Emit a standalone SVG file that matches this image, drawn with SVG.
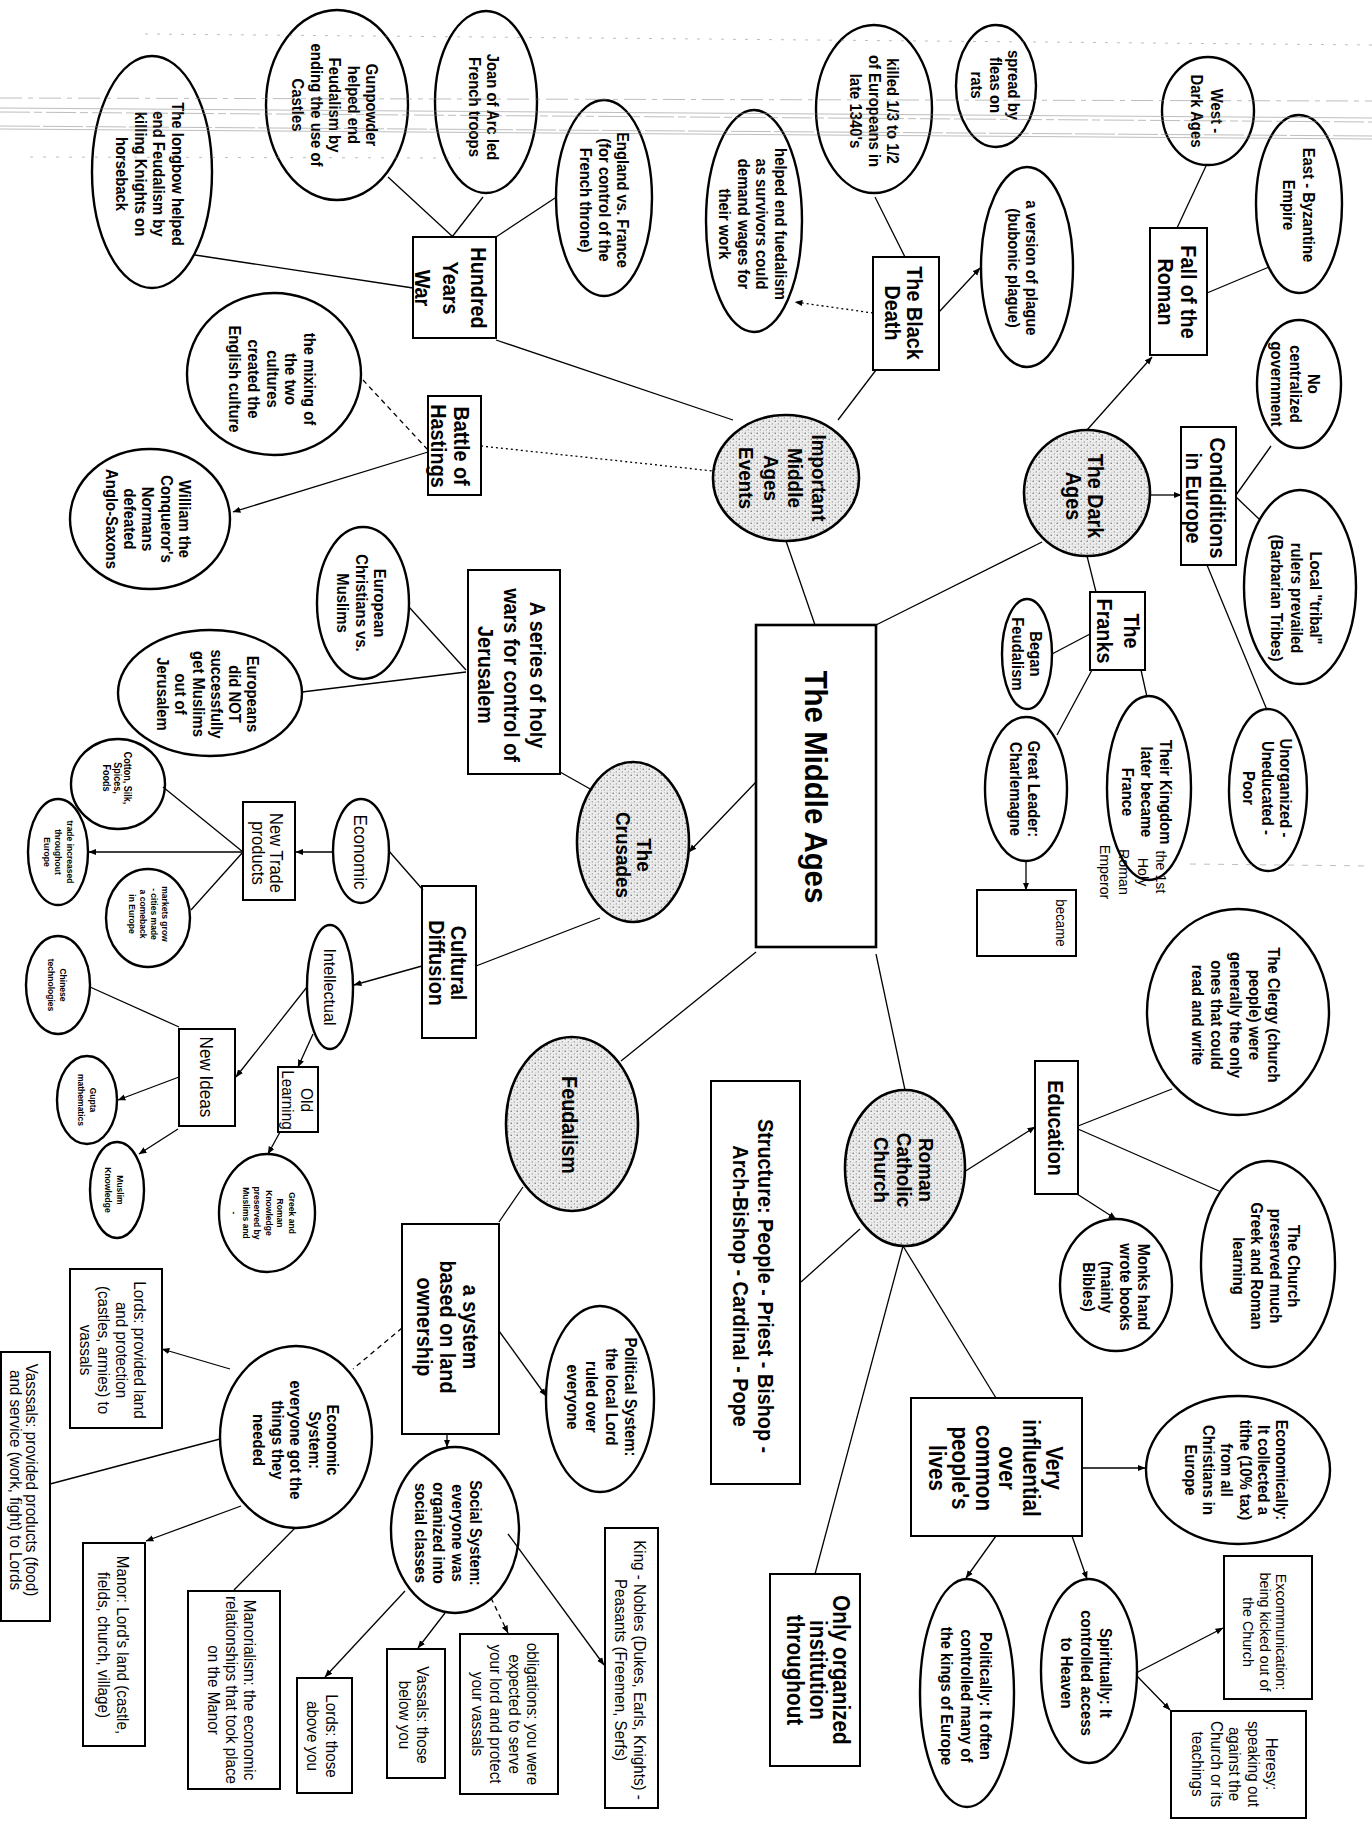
<svg xmlns="http://www.w3.org/2000/svg" width="1372" height="1828" viewBox="0 0 1372 1828">
<defs>
<pattern id="stip" width="6" height="6" patternUnits="userSpaceOnUse">
<rect width="6" height="6" fill="#ececec"/>
<circle cx="1.2" cy="1.3" r="0.75" fill="#6a6a6a"/>
<circle cx="4.3" cy="3.9" r="0.65" fill="#888"/>
<circle cx="4.6" cy="0.8" r="0.45" fill="#999"/>
<circle cx="1.8" cy="4.8" r="0.45" fill="#9a9a9a"/>
</pattern>
<marker id="ar" viewBox="0 0 10 10" refX="9.5" refY="5" markerWidth="6" markerHeight="6" orient="auto-start-reverse">
<path d="M0,1 L10,5 L0,9 z" fill="#000"/>
</marker>
<style>
.el{fill:#fff;stroke:#000;stroke-width:2.4}
.gr{fill:url(#stip);stroke:#000;stroke-width:2.6}
.bx{fill:#fff;stroke:#000;stroke-width:2}
.cn line{stroke:#000;stroke-width:1.3;fill:none}
.ar{marker-end:url(#ar)}
.dash{stroke-dasharray:5 4}
.dot{stroke-dasharray:2 3}
text{font-family:"Liberation Sans",Arial,Helvetica,sans-serif;text-anchor:middle;fill:#000}
.e{font-size:16.5px;font-weight:bold}
.b{font-size:22px;font-weight:bold}
.r{font-size:16.5px}
.s{font-size:9.5px;font-weight:bold}
.art line{stroke:#8a8a8a;stroke-width:1}
</style>
</defs>
<rect width="1372" height="1828" fill="#fff"/>

<g id="n-longbow"><ellipse class="el" cx="152" cy="172" rx="60" ry="116"/>
<text class="e" transform="translate(178,174) rotate(90) scale(0.9,1)"><tspan x="0" y="6">The longbow helped</tspan><tspan x="0" dy="18.7">end Feudalism by</tspan><tspan x="0" dy="18.7">killing Knights on</tspan><tspan x="0" dy="18.7">horseback</tspan></text></g>

<g id="n-gunpowder"><ellipse class="el" cx="337" cy="105" rx="71" ry="95"/>
<text class="e" transform="translate(372,105) rotate(90) scale(0.9,1)"><tspan x="0" y="6">Gunpowder</tspan><tspan x="0" dy="18.5">helped end</tspan><tspan x="0" dy="18.5">Feudalism by</tspan><tspan x="0" dy="18.5">ending the use of</tspan><tspan x="0" dy="18.5">Castles</tspan></text></g>

<g id="n-joan"><ellipse class="el" cx="486" cy="102" rx="51" ry="91"/>
<text class="e" transform="translate(493,107) rotate(90) scale(0.9,1)"><tspan x="0" y="6">Joan of Arc led</tspan><tspan x="0" dy="18">French troops</tspan></text></g>

<g id="n-england"><ellipse class="el" cx="604" cy="198" rx="48" ry="98"/>
<text class="e" transform="translate(623,200) rotate(90) scale(0.9,1)"><tspan x="0" y="6">England vs. France</tspan><tspan x="0" dy="18.5">(for control of the</tspan><tspan x="0" dy="18.5">French throne)</tspan></text></g>

<g id="n-hundred-years-war"><rect class="bx" x="413" y="237" width="83" height="101"/>
<text class="b" transform="translate(479,288) rotate(90) scale(0.9,1)"><tspan x="0" y="8">Hundred</tspan><tspan x="0" dy="28">Years</tspan><tspan x="0" dy="28">War</tspan></text></g>

<g id="n-mixing"><ellipse class="el" cx="274" cy="374" rx="87" ry="81"/>
<text class="e" transform="translate(310,379) rotate(90) scale(0.9,1)"><tspan x="0" y="6">the mixing of</tspan><tspan x="0" dy="18.7">the two</tspan><tspan x="0" dy="18.7">cultures</tspan><tspan x="0" dy="18.7">created the</tspan><tspan x="0" dy="18.7">English culture</tspan></text></g>

<g id="n-battle"><rect class="bx" x="428" y="396" width="53" height="99"/>
<text class="b" transform="translate(462,446) rotate(90) scale(0.9,1)"><tspan x="0" y="8">Battle of</tspan><tspan x="0" dy="23">Hastings</tspan></text></g>

<g id="n-william"><ellipse class="el" cx="150" cy="519" rx="80" ry="70"/>
<text class="e" transform="translate(185,519) rotate(90) scale(0.9,1)"><tspan x="0" y="6">William the</tspan><tspan x="0" dy="18.3">Conqueror's</tspan><tspan x="0" dy="18.3">Normans</tspan><tspan x="0" dy="18.3">defeated</tspan><tspan x="0" dy="18.3">Anglo-Saxons</tspan></text></g>

<g id="n-helped"><ellipse class="el" cx="754" cy="221" rx="48" ry="111"/>
<text class="e" transform="translate(781,224) rotate(90) scale(0.9,1)"><tspan x="0" y="6">helped end fuedalism</tspan><tspan x="0" dy="18.7">as survivors could</tspan><tspan x="0" dy="18.7">demand wages for</tspan><tspan x="0" dy="18.7">their work</tspan></text></g>

<g id="n-killed"><ellipse class="el" cx="874" cy="109" rx="58" ry="84"/>
<text class="e" transform="translate(893,111) rotate(90) scale(0.9,1)"><tspan x="0" y="6">killed 1/3 to 1/2</tspan><tspan x="0" dy="18.5">of Europeans in</tspan><tspan x="0" dy="18.5">late 1340's</tspan></text></g>

<g id="n-black-death"><rect class="bx" x="873" y="257" width="66" height="113"/>
<text class="b" transform="translate(915,313) rotate(90) scale(0.9,1)"><tspan x="0" y="8">The Black</tspan><tspan x="0" dy="22">Death</tspan></text></g>

<g id="n-spread"><ellipse class="el" cx="996" cy="86" rx="40" ry="61"/>
<text class="e" transform="translate(1014,85) rotate(90) scale(0.9,1)"><tspan x="0" y="6">spread by</tspan><tspan x="0" dy="18.5">fleas on</tspan><tspan x="0" dy="18.5">rats</tspan></text></g>

<g id="n-version"><ellipse class="el" cx="1027" cy="267" rx="46" ry="100"/>
<text class="e" transform="translate(1032,268) rotate(90) scale(0.9,1)"><tspan x="0" y="6">a version of plague</tspan><tspan x="0" dy="18.5">(bubonic plague)</tspan></text></g>

<g id="n-west"><ellipse class="el" cx="1208" cy="111" rx="46" ry="54"/>
<text class="e" transform="translate(1217,111) rotate(90) scale(0.9,1)"><tspan x="0" y="6">West -</tspan><tspan x="0" dy="20">Dark Ages</tspan></text></g>

<g id="n-east"><ellipse class="el" cx="1299" cy="204" rx="43" ry="89"/>
<text class="e" transform="translate(1309,205) rotate(90) scale(0.9,1)"><tspan x="0" y="6">East - Byzantine</tspan><tspan x="0" dy="20">Empire</tspan></text></g>

<g id="n-fall"><rect class="bx" x="1150" y="228" width="57" height="127"/>
<text class="b" transform="translate(1189,292) rotate(90) scale(0.9,1)"><tspan x="0" y="8">Fall of the</tspan><tspan x="0" dy="23">Roman</tspan></text></g>

<g id="n-no-central"><ellipse class="el" cx="1299" cy="384" rx="42" ry="64"/>
<text class="e" transform="translate(1314,384) rotate(90) scale(0.9,1)"><tspan x="0" y="6">No</tspan><tspan x="0" dy="18.5">centralized</tspan><tspan x="0" dy="18.5">government</tspan></text></g>

<g id="n-conditions"><rect class="bx" x="1181" y="427" width="55" height="138"/>
<text class="b" transform="translate(1218,498) rotate(90) scale(0.9,1)"><tspan x="0" y="8">Condiditions</tspan><tspan x="0" dy="24">in Europe</tspan></text></g>

<g id="n-dark-ages"><circle class="gr" cx="1087" cy="493" r="63"/>
<text class="b" transform="translate(1096,496) rotate(90) scale(0.9,1)"><tspan x="0" y="8">The Dark</tspan><tspan x="0" dy="22">Ages</tspan></text></g>

<g id="n-local"><ellipse class="el" cx="1300" cy="587" rx="56" ry="97"/>
<text class="e" transform="translate(1316,598) rotate(90) scale(0.9,1)"><tspan x="0" y="6">Local "tribal"</tspan><tspan x="0" dy="19.5">rulers prevailed</tspan><tspan x="0" dy="19.5">(Barbarian Tribes)</tspan></text></g>

<g id="n-unorganized"><ellipse class="el" cx="1268" cy="790" rx="39" ry="81"/>
<text class="e" transform="translate(1286,788) rotate(90) scale(0.9,1)"><tspan x="0" y="6">Unorganized -</tspan><tspan x="0" dy="18.5">Uneducated -</tspan><tspan x="0" dy="18.5">Poor</tspan></text></g>

<g id="n-franks"><rect class="bx" x="1090" y="592" width="55" height="78"/>
<text class="b" transform="translate(1132,631) rotate(90) scale(0.9,1)"><tspan x="0" y="8">The</tspan><tspan x="0" dy="27">Franks</tspan></text></g>

<g id="n-began"><ellipse class="el" cx="1027" cy="654" rx="25" ry="55"/>
<text class="e" transform="translate(1036,654) rotate(90) scale(0.9,1)"><tspan x="0" y="6">Began</tspan><tspan x="0" dy="18.5">Feudalism</tspan></text></g>

<g id="n-great-leader"><ellipse class="el" cx="1026" cy="789" rx="41" ry="72"/>
<text class="e" transform="translate(1034,789) rotate(90) scale(0.9,1)"><tspan x="0" y="6">Great Leader:</tspan><tspan x="0" dy="18.5">Charlemagne</tspan></text></g>

<g id="n-kingdom"><ellipse class="el" cx="1149" cy="788" rx="42" ry="92"/>
<text class="e" transform="translate(1166,792) rotate(90) scale(0.9,1)"><tspan x="0" y="6">Their Kingdom</tspan><tspan x="0" dy="19">later became</tspan><tspan x="0" dy="19">France</tspan></text></g>

<g id="n-became"><rect class="bx" x="977" y="890" width="99" height="66"/>
<text class="r" style="font-size:14px" transform="translate(1061,923) rotate(90) scale(0.95,1)"><tspan x="0" y="5">became</tspan></text>
<text class="r" style="font-size:15.5px" transform="translate(1162,872) rotate(90) scale(0.92,1)"><tspan x="0" y="5.5">the 1st</tspan><tspan x="0" dy="19">Holy</tspan><tspan x="0" dy="19">Roman</tspan><tspan x="0" dy="19">Emperor</tspan></text></g>

<g id="n-important"><ellipse class="gr" cx="786" cy="478" rx="73" ry="63"/>
<text class="b" style="font-size:21px" transform="translate(820,478) rotate(90) scale(0.9,1)"><tspan x="0" y="7.5">Important</tspan><tspan x="0" dy="24.5">Middle</tspan><tspan x="0" dy="24.5">Ages</tspan><tspan x="0" dy="24.5">Events</tspan></text></g>

<g id="n-middle-ages"><rect class="bx" x="756" y="625" width="120" height="322" style="stroke-width:2.6"/>
<text class="b" style="font-size:32px" transform="translate(816,787) rotate(90) scale(0.92,1)"><tspan x="0" y="11">The Middle Ages</tspan></text></g>

<g id="n-crusades"><ellipse class="gr" cx="633" cy="842" rx="56" ry="80"/>
<text class="b" style="font-size:21px" transform="translate(645,855) rotate(90) scale(0.9,1)"><tspan x="0" y="7.5">The</tspan><tspan x="0" dy="22">Crusades</tspan></text></g>

<g id="n-series"><rect class="bx" x="468" y="570" width="92" height="204"/>
<text class="b" transform="translate(538,675) rotate(90) scale(0.9,1)"><tspan x="0" y="8">A series of holy</tspan><tspan x="0" dy="26">wars for control of</tspan><tspan x="0" dy="26">Jerusalem</tspan></text></g>

<g id="n-euro-christians"><ellipse class="el" cx="363" cy="603" rx="46" ry="76"/>
<text class="e" transform="translate(380,603) rotate(90) scale(0.9,1)"><tspan x="0" y="6">European</tspan><tspan x="0" dy="18.5">Christians vs.</tspan><tspan x="0" dy="18.5">Muslims</tspan></text></g>

<g id="n-europeans-not"><ellipse class="el" cx="210" cy="693" rx="92" ry="63"/>
<text class="e" transform="translate(253,694) rotate(90) scale(0.9,1)"><tspan x="0" y="6">Europeans</tspan><tspan x="0" dy="18">did NOT</tspan><tspan x="0" dy="18">successfully</tspan><tspan x="0" dy="18">get Muslims</tspan><tspan x="0" dy="18">out of</tspan><tspan x="0" dy="18">Jerusalem</tspan></text></g>

<g id="n-cotton"><ellipse class="el" cx="118" cy="784" rx="47" ry="45"/>
<text class="s" style="font-size:10px" transform="translate(128,778) rotate(90) scale(0.9,1)"><tspan x="0" y="3.5">Cotton, Silk,</tspan><tspan x="0" dy="11">Spices,</tspan><tspan x="0" dy="11">Foods</tspan></text></g>

<g id="n-trade"><ellipse class="el" cx="58" cy="852" rx="30" ry="53"/>
<text class="s" transform="translate(70,852) rotate(90) scale(0.9,1)"><tspan x="0" y="3.3">trade increased</tspan><tspan x="0" dy="11.5">throughout</tspan><tspan x="0" dy="11.5">Europe</tspan></text></g>

<g id="n-markets"><ellipse class="el" cx="148" cy="918" rx="42" ry="49"/>
<text class="s" transform="translate(165,914) rotate(90) scale(0.9,1)"><tspan x="0" y="3.3">markets grow</tspan><tspan x="0" dy="11">- cities made</tspan><tspan x="0" dy="11">a comeback</tspan><tspan x="0" dy="11">in Europe</tspan></text></g>

<g id="n-new-trade"><rect class="bx" x="243" y="802" width="52" height="98"/>
<text class="b" style="font-size:18px;font-weight:normal" transform="translate(277,853) rotate(90) scale(0.92,1)"><tspan x="0" y="6.5">New Trade</tspan><tspan x="0" dy="19">products</tspan></text></g>

<g id="n-economic"><ellipse class="el" cx="361" cy="851" rx="28" ry="52"/>
<text class="b" style="font-size:18px;font-weight:normal" transform="translate(361,852) rotate(90) scale(0.95,1)"><tspan x="0" y="6.5">Economic</tspan></text></g>

<g id="n-cultural"><rect class="bx" x="422" y="886" width="54" height="152"/>
<text class="b" transform="translate(459,963) rotate(90) scale(0.9,1)"><tspan x="0" y="8">Cultural</tspan><tspan x="0" dy="22">Diffusion</tspan></text></g>

<g id="n-intellectual"><ellipse class="el" cx="330" cy="987" rx="23" ry="62"/>
<text class="r" style="font-size:17px" transform="translate(330,987) rotate(90) scale(0.95,1)"><tspan x="0" y="6">Intellectual</tspan></text></g>

<g id="n-new-ideas"><rect class="bx" x="179" y="1029" width="56" height="97"/>
<text class="r" style="font-size:18px" transform="translate(207,1077) rotate(90) scale(0.95,1)"><tspan x="0" y="6.5">New Ideas</tspan></text></g>

<g id="n-old-learning"><rect class="bx" x="278" y="1067" width="40" height="65"/>
<text class="r" style="font-size:17px" transform="translate(307,1100) rotate(90) scale(0.9,1)"><tspan x="0" y="6">Old</tspan><tspan x="0" dy="19">Learning</tspan></text></g>

<g id="n-chinese"><ellipse class="el" cx="58" cy="985" rx="32" ry="49"/>
<text class="s" transform="translate(63,985) rotate(90) scale(0.9,1)"><tspan x="0" y="3.3">Chinese</tspan><tspan x="0" dy="12">technologies</tspan></text></g>

<g id="n-gupta"><ellipse class="el" cx="87" cy="1100" rx="30" ry="44"/>
<text class="s" transform="translate(93,1100) rotate(90) scale(0.9,1)"><tspan x="0" y="3.3">Gupta</tspan><tspan x="0" dy="12">mathematics</tspan></text></g>

<g id="n-muslim"><ellipse class="el" cx="117" cy="1190" rx="27" ry="48"/>
<text class="s" transform="translate(120,1190) rotate(90) scale(0.9,1)"><tspan x="0" y="3.3">Muslim</tspan><tspan x="0" dy="12">Knowledge</tspan></text></g>

<g id="n-greek"><ellipse class="el" cx="267" cy="1213" rx="48" ry="59"/>
<text class="s" transform="translate(292,1213) rotate(90) scale(0.9,1)"><tspan x="0" y="3.3">Greek and</tspan><tspan x="0" dy="11.5">Roman</tspan><tspan x="0" dy="11.5">Knowledge</tspan><tspan x="0" dy="11.5">preserved by</tspan><tspan x="0" dy="11.5">Muslims and</tspan><tspan x="0" dy="11.5">-</tspan></text></g>

<g id="n-feudalism"><ellipse class="gr" cx="572" cy="1124" rx="66" ry="87"/>
<text class="b" transform="translate(570,1125) rotate(90) scale(0.9,1)"><tspan x="0" y="8">Feudalism</tspan></text></g>

<g id="n-structure"><rect class="bx" x="711" y="1081" width="89" height="403"/>
<text class="b" transform="translate(766,1286) rotate(90) scale(0.9,1)"><tspan x="0" y="8">Structure:  People - Priest - Bishop -</tspan><tspan x="0" dy="25">Arch-Bishop - Cardinal - Pope</tspan></text></g>

<g id="n-roman-catholic"><ellipse class="gr" cx="905" cy="1168" rx="60" ry="78"/>
<text class="b" style="font-size:21px" transform="translate(927,1170) rotate(90) scale(0.9,1)"><tspan x="0" y="7.5">Roman</tspan><tspan x="0" dy="23">Catholic</tspan><tspan x="0" dy="23">Church</tspan></text></g>

<g id="n-education"><rect class="bx" x="1035" y="1061" width="43" height="133"/>
<text class="b" transform="translate(1056,1128) rotate(90) scale(0.9,1)"><tspan x="0" y="8">Education</tspan></text></g>

<g id="n-clergy"><ellipse class="el" cx="1238" cy="1012" rx="91" ry="103"/>
<text class="e" transform="translate(1274,1015) rotate(90) scale(0.9,1)"><tspan x="0" y="6">The Clergy (church</tspan><tspan x="0" dy="19">people) were</tspan><tspan x="0" dy="19">generally the only</tspan><tspan x="0" dy="19">ones that could</tspan><tspan x="0" dy="19">read and write</tspan></text></g>

<g id="n-church-preserved"><ellipse class="el" cx="1268" cy="1264" rx="67" ry="103"/>
<text class="e" transform="translate(1294,1266) rotate(90) scale(0.9,1)"><tspan x="0" y="6">The Church</tspan><tspan x="0" dy="18.5">preserved much</tspan><tspan x="0" dy="18.5">Greek and Roman</tspan><tspan x="0" dy="18.5">learning</tspan></text></g>

<g id="n-monks"><ellipse class="el" cx="1116" cy="1285" rx="56" ry="66"/>
<text class="e" transform="translate(1144,1287) rotate(90) scale(0.9,1)"><tspan x="0" y="6">Monks hand</tspan><tspan x="0" dy="18.5">wrote books</tspan><tspan x="0" dy="18.5">(mainly</tspan><tspan x="0" dy="18.5">Bibles)</tspan></text></g>

<g id="n-a-system"><rect class="bx" x="402" y="1224" width="97" height="210"/>
<text class="b" transform="translate(471,1327) rotate(90) scale(0.9,1)"><tspan x="0" y="8">a system</tspan><tspan x="0" dy="23">based on land</tspan><tspan x="0" dy="23">ownership</tspan></text></g>

<g id="n-political"><ellipse class="el" cx="600" cy="1399" rx="54" ry="93"/>
<text class="e" transform="translate(631,1397) rotate(90) scale(0.9,1)"><tspan x="0" y="6">Political System:</tspan><tspan x="0" dy="19.5">the local Lord</tspan><tspan x="0" dy="19.5">ruled over</tspan><tspan x="0" dy="19.5">everyone</tspan></text></g>

<g id="n-economic-system"><ellipse class="el" cx="296" cy="1437" rx="76" ry="91"/>
<text class="e" transform="translate(333,1440) rotate(90) scale(0.9,1)"><tspan x="0" y="6">Economic</tspan><tspan x="0" dy="18.5">System:</tspan><tspan x="0" dy="18.5">everyone got the</tspan><tspan x="0" dy="18.5">things they</tspan><tspan x="0" dy="18.5">needed</tspan></text></g>

<g id="n-lords-provided"><rect class="bx" x="70" y="1269" width="92" height="159"/>
<text class="r" transform="translate(140,1350) rotate(90) scale(0.92,1)"><tspan x="0" y="6">Lords:  provided land</tspan><tspan x="0" dy="18">and protection</tspan><tspan x="0" dy="18">(castles, armies) to</tspan><tspan x="0" dy="18">vassals</tspan></text></g>

<g id="n-vasssals"><rect class="bx" x="1" y="1352" width="49" height="269"/>
<text class="r" transform="translate(32,1480) rotate(90) scale(0.92,1)"><tspan x="0" y="6">Vasssals: provided products (food)</tspan><tspan x="0" dy="16.5">and service (work, fight) to Lords</tspan></text></g>

<g id="n-manor"><rect class="bx" x="83" y="1543" width="62" height="203"/>
<text class="r" transform="translate(123,1645) rotate(90) scale(0.92,1)"><tspan x="0" y="6">Manor:  Lord's land (castle,</tspan><tspan x="0" dy="19">fields, church, village)</tspan></text></g>

<g id="n-manorialism"><rect class="bx" x="188" y="1591" width="92" height="198"/>
<text class="r" transform="translate(250,1690) rotate(90) scale(0.92,1)"><tspan x="0" y="6">Manorialism:  the economic</tspan><tspan x="0" dy="18">relationships that took place</tspan><tspan x="0" dy="18">on the Manor</tspan></text></g>

<g id="n-social"><ellipse class="el" cx="455" cy="1530" rx="64" ry="83"/>
<text class="e" transform="translate(476,1533) rotate(90) scale(0.9,1)"><tspan x="0" y="6">Social System:</tspan><tspan x="0" dy="18.5">everyone was</tspan><tspan x="0" dy="18.5">organized into</tspan><tspan x="0" dy="18.5">social classes</tspan></text></g>

<g id="n-lords-above"><rect class="bx" x="297" y="1678" width="55" height="115"/>
<text class="r" transform="translate(332,1736) rotate(90) scale(0.92,1)"><tspan x="0" y="6">Lords:  those</tspan><tspan x="0" dy="19">above you</tspan></text></g>

<g id="n-vassals-below"><rect class="bx" x="387" y="1649" width="58" height="129"/>
<text class="r" transform="translate(423,1715) rotate(90) scale(0.92,1)"><tspan x="0" y="6">Vassals:  those</tspan><tspan x="0" dy="18">below you</tspan></text></g>

<g id="n-obligations"><rect class="bx" x="460" y="1634" width="98" height="160"/>
<text class="r" transform="translate(533,1714) rotate(90) scale(0.92,1)"><tspan x="0" y="6">obligations:  you were</tspan><tspan x="0" dy="18.5">expected to serve</tspan><tspan x="0" dy="18.5">your lord and protect</tspan><tspan x="0" dy="18.5">your vassals</tspan></text></g>

<g id="n-king"><rect class="bx" x="605" y="1528" width="53" height="280"/>
<text class="r" transform="translate(640,1670) rotate(90) scale(0.92,1)"><tspan x="0" y="6">King - Nobles (Dukes, Earls, Knights) -</tspan><tspan x="0" dy="19">Peasants (Freemen, Serfs)</tspan></text></g>

<g id="n-only-organized"><rect class="bx" x="770" y="1574" width="90" height="192"/>
<text class="b" style="font-size:23px" transform="translate(841,1670) rotate(90) scale(0.9,1)"><tspan x="0" y="8">Only organized</tspan><tspan x="0" dy="23">institution</tspan><tspan x="0" dy="23">throughout</tspan></text></g>

<g id="n-very-influential"><rect class="bx" x="911" y="1398" width="171" height="138"/>
<text class="b" style="font-size:23px" transform="translate(1054,1468) rotate(90) scale(0.9,1)"><tspan x="0" y="8">Very</tspan><tspan x="0" dy="23.5">influential</tspan><tspan x="0" dy="23.5">over</tspan><tspan x="0" dy="23.5">common</tspan><tspan x="0" dy="23.5">people's</tspan><tspan x="0" dy="23.5">lives</tspan></text></g>

<g id="n-economically"><ellipse class="el" cx="1238" cy="1470" rx="92" ry="74"/>
<text class="e" transform="translate(1282,1470) rotate(90) scale(0.9,1)"><tspan x="0" y="6">Economically:</tspan><tspan x="0" dy="18.2">It collected a</tspan><tspan x="0" dy="18.2">tithe (10% tax)</tspan><tspan x="0" dy="18.2">from all</tspan><tspan x="0" dy="18.2">Christians in</tspan><tspan x="0" dy="18.2">Europe</tspan></text></g>

<g id="n-spiritually"><ellipse class="el" cx="1089" cy="1671" rx="48" ry="92"/>
<text class="e" transform="translate(1106,1673) rotate(90) scale(0.9,1)"><tspan x="0" y="6">Spiritually:  It</tspan><tspan x="0" dy="19.5">controlled access</tspan><tspan x="0" dy="19.5">to Heaven</tspan></text></g>

<g id="n-politically"><ellipse class="el" cx="967" cy="1693" rx="47" ry="114"/>
<text class="e" transform="translate(986,1696) rotate(90) scale(0.9,1)"><tspan x="0" y="6">Politically:  It often</tspan><tspan x="0" dy="19.5">controlled many of</tspan><tspan x="0" dy="19.5">the kings of Europe</tspan></text></g>

<g id="n-excommunication"><rect class="bx" x="1224" y="1556" width="88" height="143"/>
<text class="r" style="font-size:15.5px" transform="translate(1282,1632) rotate(90) scale(0.92,1)"><tspan x="0" y="5.5">Excommunication:</tspan><tspan x="0" dy="17">being kicked out of</tspan><tspan x="0" dy="17">the Church</tspan></text></g>

<g id="n-heresy"><rect class="bx" x="1171" y="1711" width="135" height="107"/>
<text class="r" transform="translate(1272,1764) rotate(90) scale(0.92,1)"><tspan x="0" y="6">Heresy:</tspan><tspan x="0" dy="18.5">speaking out</tspan><tspan x="0" dy="18.5">against the</tspan><tspan x="0" dy="18.5">Church or its</tspan><tspan x="0" dy="18.5">teachings</tspan></text></g>

<g id="connectors" class="cn">
<line x1="195" y1="255" x2="413" y2="288"/>
<line x1="388" y1="177" x2="453" y2="237"/>
<line x1="483" y1="197" x2="452" y2="237"/>
<line x1="555" y1="198" x2="496" y2="237"/>
<line x1="496" y1="340" x2="733" y2="420"/>
<line class="dash" x1="363" y1="380" x2="428" y2="450"/>
<line class="ar" x1="428" y1="452" x2="233" y2="512"/>
<line class="dot" x1="481" y1="446" x2="713" y2="471"/>
<line x1="875" y1="197" x2="905" y2="257"/>
<line class="dot ar" x1="873" y1="313" x2="795" y2="302"/>
<line class="ar" x1="939" y1="312" x2="980" y2="268"/>
<line x1="876" y1="370" x2="838" y2="420"/>
<line x1="1206" y1="166" x2="1177" y2="228"/>
<line x1="1269" y1="267" x2="1207" y2="293"/>
<line class="ar" x1="1087" y1="430" x2="1152" y2="357"/>
<line x1="1271" y1="446" x2="1236" y2="495"/>
<line class="ar" x1="1150" y1="495" x2="1181" y2="495"/>
<line x1="1236" y1="497" x2="1259" y2="519"/>
<line x1="1207" y1="565" x2="1267" y2="710"/>
<line x1="1087" y1="556" x2="1096" y2="592"/>
<line x1="1090" y1="634" x2="1052" y2="654"/>
<line x1="1092" y1="670" x2="1057" y2="735"/>
<line x1="1141" y1="670" x2="1147" y2="697"/>
<line class="ar" x1="1026" y1="861" x2="1026" y2="890"/>
<line x1="786" y1="541" x2="815" y2="625"/>
<line x1="876" y1="625" x2="1042" y2="542"/>
<line class="ar" x1="756" y1="782" x2="689" y2="852"/>
<line x1="560" y1="772" x2="592" y2="790"/>
<line x1="409" y1="607" x2="466" y2="670"/>
<line x1="302" y1="692" x2="466" y2="672"/>
<line x1="476" y1="966" x2="600" y2="918"/>
<line x1="388" y1="850" x2="423" y2="890"/>
<line class="ar" x1="333" y1="852" x2="296" y2="852"/>
<line x1="243" y1="852" x2="163" y2="787"/>
<line class="ar" x1="243" y1="852" x2="89" y2="852"/>
<line x1="243" y1="852" x2="191" y2="910"/>
<line class="ar" x1="422" y1="966" x2="354" y2="985"/>
<line class="ar" x1="307" y1="987" x2="236" y2="1077"/>
<line class="ar" x1="313" y1="1034" x2="298" y2="1067"/>
<line x1="179" y1="1027" x2="90" y2="987"/>
<line class="ar" x1="179" y1="1077" x2="118" y2="1100"/>
<line class="ar" x1="178" y1="1129" x2="139" y2="1154"/>
<line class="ar" x1="280" y1="1132" x2="268" y2="1154"/>
<line x1="756" y1="952" x2="621" y2="1061"/>
<line x1="523" y1="1187" x2="499" y2="1222"/>
<line x1="876" y1="954" x2="905" y2="1090"/>
<line x1="860" y1="1229" x2="801" y2="1282"/>
<line x1="903" y1="1246" x2="996" y2="1398"/>
<line x1="903" y1="1246" x2="815" y2="1574"/>
<line class="ar" x1="964" y1="1172" x2="1035" y2="1127"/>
<line x1="1078" y1="1126" x2="1172" y2="1089"/>
<line x1="1078" y1="1129" x2="1219" y2="1191"/>
<line class="ar" x1="1077" y1="1194" x2="1116" y2="1219"/>
<line class="ar" x1="499" y1="1331" x2="546" y2="1396"/>
<line class="dash" x1="402" y1="1328" x2="353" y2="1369"/>
<line class="ar" x1="230" y1="1369" x2="162" y2="1349"/>
<line x1="220" y1="1439" x2="50" y2="1484"/>
<line class="ar" x1="241" y1="1506" x2="146" y2="1541"/>
<line x1="295" y1="1528" x2="234" y2="1590"/>
<line class="ar" x1="447" y1="1434" x2="447" y2="1447"/>
<line class="ar" x1="405" y1="1591" x2="325" y2="1677"/>
<line class="ar" x1="445" y1="1613" x2="418" y2="1648"/>
<line class="ar" x1="508" y1="1534" x2="604" y2="1665"/>
<line class="dash ar" x1="491" y1="1598" x2="508" y2="1633"/>
<line class="ar" x1="1082" y1="1468" x2="1145" y2="1468"/>
<line class="ar" x1="1072" y1="1536" x2="1087" y2="1579"/>
<line class="ar" x1="996" y1="1536" x2="966" y2="1578"/>
<line class="ar" x1="1136" y1="1673" x2="1223" y2="1628"/>
<line class="ar" x1="1137" y1="1676" x2="1170" y2="1710"/>
</g>

<g id="scan-artifacts" class="art" opacity="0.55">
<line x1="0" y1="98" x2="1372" y2="101" stroke-dasharray="22 6 5 6"/>
<line x1="0" y1="108" x2="1372" y2="118"/>
<line x1="0" y1="112" x2="1372" y2="122" stroke-dasharray="30 4 8 4"/>
<line x1="0" y1="126" x2="1372" y2="136" stroke-dasharray="40 3"/>
<line x1="0" y1="129" x2="1372" y2="139"/>
<line x1="145" y1="34" x2="1372" y2="45" stroke-dasharray="3 9"/>
<line x1="30" y1="157" x2="460" y2="158" stroke-dasharray="3 10"/>
<line x1="1190" y1="864" x2="1372" y2="866" stroke-dasharray="6 8"/>
</g>
</svg>
